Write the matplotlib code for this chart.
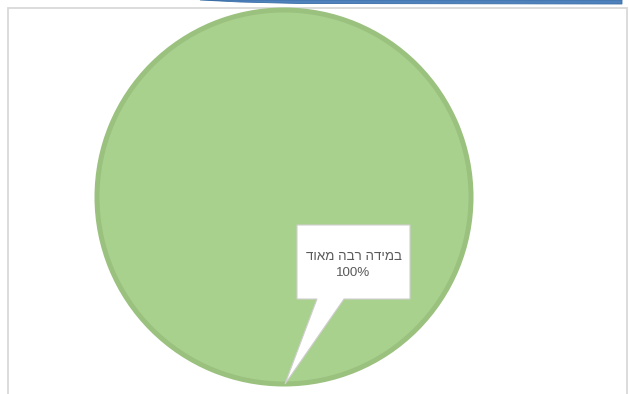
import numpy as np
import matplotlib.pyplot as plt
from matplotlib.patches import Polygon

# data
labels = ["במידה רבה מאוד"]
values = [100]
colors = ["#a9d18e"]

W, H = 629, 394
fig = plt.figure(figsize=(W / 100, H / 100), dpi=100)
ax = fig.add_axes([0, 0, 1, 1])

# pie in pixel-like coords
cx, cy, r = 284, 197, 187
wedges, _ = ax.pie(values, colors=colors, center=(cx, cy), radius=r,
                   startangle=90, counterclock=False,
                   wedgeprops=dict(edgecolor="#9bc17f", linewidth=3.6))
ax.set_xlim(0, W)
ax.set_ylim(H, 0)
ax.set_aspect("equal")
ax.axis("off")

# outer chart frame (left, top, right)
ax.plot([7.5, 7.5, 626.5, 626.5], [H, 7.5, 7.5, H], color="#d9d9d9", lw=1.3,
        solid_joinstyle="miter", zorder=0)

# blue bar cut off at the top of the screenshot
bar = Polygon([(200, 0), (622, 0), (622, 4), (300, 3.5), (240, 2)],
              closed=True, fc="#4f81bd", ec="#3a6ea5", lw=0.6, clip_on=False)
ax.add_patch(bar)

# callout label with pointer to the slice
x0, x1, y0, y1 = 297, 410, 225, 299
tip_x, tip_y = cx + 1, cy + r
callout = Polygon([(x0, y0), (x1, y0), (x1, y1), (344, y1), (tip_x, tip_y),
                   (317, y1), (x0, y1)],
                  closed=True, fc="white", ec="#cfcfcf", lw=0.8, zorder=5)
ax.add_patch(callout)

pct = values[0] / sum(values) * 100
label_vis = labels[0][::-1]  # hebrew: reverse for LTR rendering
ax.text((x0 + x1) / 2, 257, label_vis, ha="center", va="center", fontsize=9.6,
        color="#595959", family=["Liberation Sans", "DejaVu Sans"], zorder=6)
ax.text((x0 + x1) / 2, 273, f"{pct:.0f}%", ha="center", va="center", fontsize=9.6,
        color="#595959", family=["Liberation Sans", "DejaVu Sans"], zorder=6)

fig.savefig("out.png", dpi=100)
